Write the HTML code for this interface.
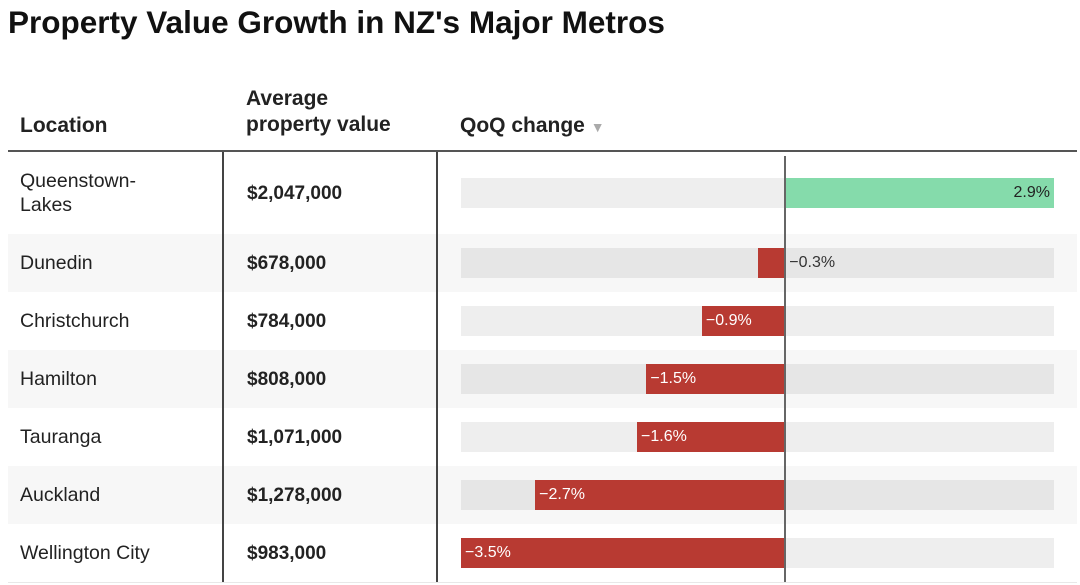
<!DOCTYPE html>
<html><head><meta charset="utf-8">
<style>
body{margin:0;width:1080px;height:585px;background:#fff;font-family:"Liberation Sans",sans-serif;color:#222;position:relative;overflow:hidden}
.a{position:absolute}
.h{font-weight:bold;font-size:21px;color:#222;line-height:26px}
.cell{font-size:19.5px;line-height:24px}
.val{font-weight:bold;font-size:19px}
.lbl{font-size:16px;line-height:30px}
</style></head><body>
<div class="a" style="left:8px;top:4px;font-size:31.5px;font-weight:bold;color:#111">Property Value Growth in NZ's Major Metros</div>
<div class="a h" style="left:20px;top:113px">Location</div>
<div class="a h" style="left:246px;top:86px">Average<br>property value</div>
<div class="a h" style="left:460px;top:113px">QoQ change <span style="color:#aaa;font-size:14px">▼</span></div>
<div class="a" style="left:8px;top:150px;width:1069px;height:2px;background:#555"></div>
<div id="rows"></div>
<script>
const locations=["Queenstown-<br>Lakes","Dunedin","Christchurch","Hamilton","Tauranga","Auckland","Wellington City"];
const values=["$2,047,000","$678,000","$784,000","$808,000","$1,071,000","$1,278,000","$983,000"];
const changes=[2.9,-0.3,-0.9,-1.5,-1.6,-2.7,-3.5];
const labels=["2.9%","−0.3%","−0.9%","−1.5%","−1.6%","−2.7%","−3.5%"];
const x0=461,x1=1054,dmin=-3.5,dmax=2.9;
const xs=v=>x0+(v-dmin)/(dmax-dmin)*(x1-x0);
const root=document.getElementById('rows');
let y=152;
function add(html){root.insertAdjacentHTML('beforeend',html);}
for(let i=0;i<locations.length;i++){
  const h=i===0?82:58;
  const bg=i%2===1?'#f7f7f7':'#fff';
  const track=i%2===1?'#e6e6e6':'#eeeeee';
  const row=document.createElement('div');
  row.className='a';
  
  
  row.style.cssText=`left:8px;top:${y}px;width:1069px;height:${h}px;background:${bg};border-bottom:1px solid #e8e8e8`;
  root.appendChild(row);
  const cy=y+h/2;
  const loc=document.createElement('div');
  loc.className='a cell';
  
  
  loc.innerHTML=locations[i];
  loc.style.cssText=`left:20px;top:${cy-(i===0?24:12)}px`;
  root.appendChild(loc);
  const v=document.createElement('div');
  v.className='a cell val';
  
  
  v.textContent=values[i];
  v.style.cssText=`left:247px;top:${cy-11}px`;
  root.appendChild(v);
  const t=document.createElement('div');
  t.className='a';
  
  
  t.style.cssText=`left:${x0}px;top:${cy-15}px;width:${x1-x0}px;height:30px;background:${track}`;
  root.appendChild(t);
  const c=changes[i],zx=xs(0),vx=xs(c);
  const b=document.createElement('div');
  b.className='a';
  
  
  b.style.cssText=`left:${Math.min(zx,vx)}px;top:${cy-15}px;width:${Math.abs(vx-zx)}px;height:30px;background:${c>=0?'#85dbab':'#b83a32'}`;
  root.appendChild(b);
  const l=document.createElement('div');
  l.className='a lbl';
  
  
  l.textContent=labels[i];
  const w=Math.abs(vx-zx);
  if(c>=0){l.style.cssText=`left:${vx-62}px;width:58px;text-align:right;top:${cy-15}px;color:#222`;}
  else if(w>50){l.style.cssText=`left:${vx+4}px;top:${cy-15}px;color:#fff`;}
  else{l.style.cssText=`left:${zx+4}px;top:${cy-15}px;color:#333`;}
  root.appendChild(l);
  y+=h;
}
add(`<div class="a" style="left:222px;top:152px;width:2px;height:${y-152}px;background:#444"></div>`);
add(`<div class="a" style="left:436px;top:152px;width:2px;height:${y-152}px;background:#444"></div>`);
const zl=document.createElement('div');
zl.className='a';


zl.style.cssText=`left:${xs(0)-1}px;top:156px;width:2px;height:${y-156}px;background:#666`;
root.appendChild(zl);
</script>
</body></html>
